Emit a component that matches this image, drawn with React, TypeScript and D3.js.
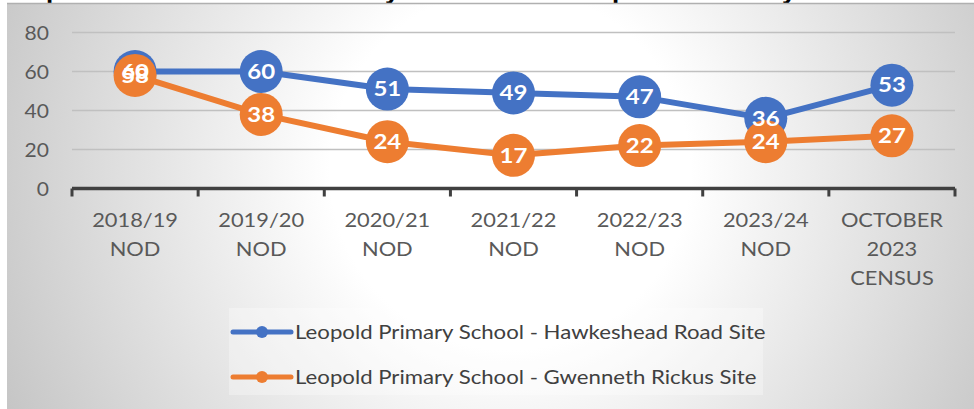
import React from "react";
import * as d3 from "d3";

const categories = [
  "2018/19 NOD",
  "2019/20 NOD",
  "2020/21 NOD",
  "2021/22 NOD",
  "2022/23 NOD",
  "2023/24 NOD",
  "OCTOBER 2023 CENSUS",
];
const hawkesheadValues = [60, 60, 51, 49, 47, 36, 53];
const gwennethValues = [58, 38, 24, 17, 22, 24, 27];
const seriesNames = [
  "Leopold Primary School - Hawkeshead Road Site",
  "Leopold Primary School - Gwenneth Rickus Site",
];
const yTicks = [0, 20, 40, 60, 80];

const W = 974;
const H = 409;
const FONT = "Lato, 'Open Sans', sans-serif";
const BLUE = "#4472C4";
const ORANGE = "#ED7D31";

type STProps = {
  x: number;
  y: number;
  sx: number;
  anchor?: "start" | "middle" | "end";
  size: number;
  fill: string;
  weight?: string | number;
  dy?: string;
  children: React.ReactNode;
};

function SText({ x, y, sx, anchor = "start", size, fill, weight = "normal", dy, children }: STProps) {
  return (
    <text
      transform={`translate(${x},${y}) scale(${sx},1)`}
      x={0}
      y={0}
      dy={dy}
      textAnchor={anchor}
      fontSize={size}
      fill={fill}
      fontWeight={weight}
    >
      {children}
    </text>
  );
}

export default function App() {
  const x = d3.scaleBand<string>().domain(categories).range([72, 955]).padding(0);
  const y = d3.scaleLinear().domain([0, 80]).range([188.5, 32.5]);
  const cx = (c: string) => (x(c) as number) + x.bandwidth() / 2;

  const series = [
    { name: seriesNames[0], values: hawkesheadValues, color: BLUE },
    { name: seriesNames[1], values: gwennethValues, color: ORANGE },
  ];

  const line = d3
    .line<number>()
    .x((_, i) => cx(categories[i]))
    .y((d) => y(d));

  const boundaries = [...categories.map((c) => x(c) as number), 955];

  return (
    <svg
      width={W}
      height={H}
      style={{ position: "fixed", left: 0, top: 0, display: "block" }}
      fontFamily={FONT}
    >
      <defs>
        <radialGradient id="bg" gradientUnits="userSpaceOnUse" cx={510} cy={170} r={600}>
          <stop offset="0" stopColor="#ffffff" />
          <stop offset="0.3" stopColor="#ffffff" />
          <stop offset="1" stopColor="#bfbfbf" />
        </radialGradient>
      </defs>
      <rect x={0} y={0} width={W} height={H} fill="#ffffff" />
      {/* cut-off title fragments */}
      <g fontFamily="'Liberation Sans', Arial, sans-serif" fontWeight="bold" fontSize={26} fill="#000">
        <text x={46} y={-1}>p</text>
        <text x={385} y={-1}>y</text>
        <text x={612} y={-1}>p</text>
        <text x={782} y={-1}>y</text>
      </g>
      <rect x={7} y={3.5} width={W - 7} height={H - 3.5} fill="url(#bg)" />
      <line x1={7} x2={W} y1={3.5} y2={3.5} stroke="#b0b0b0" strokeWidth={1.5} />

      {/* gridlines */}
      {yTicks
        .filter((t) => t > 0)
        .map((t) => (
          <line key={t} x1={72} x2={955} y1={y(t)} y2={y(t)} stroke="#c0c0c0" strokeWidth={1.5} />
        ))}

      {/* y tick labels */}
      {yTicks.map((t) => (
        <SText key={t} x={49} y={y(t)} sx={1.08} dy="0.36em" anchor="end" size={19.5} fill="#595959">
          {t}
        </SText>
      ))}

      {/* x axis */}
      <line x1={72} x2={955} y1={y(0)} y2={y(0)} stroke="#404040" strokeWidth={3.5} />
      {boundaries.map((b, i) => (
        <line key={i} x1={b} x2={b} y1={y(0)} y2={y(0) + 8} stroke="#404040" strokeWidth={3} />
      ))}
      {categories.map((c) =>
        c.split(" ").map((part, j) => (
          <SText key={c + j} x={cx(c)} y={227 + j * 29} sx={1.12} anchor="middle" size={19.5} fill="#595959">
            {part}
          </SText>
        ))
      )}

      {/* lines and markers */}
      {series.map((s) => (
        <g key={s.name}>
          <path d={line(s.values) || ""} fill="none" stroke={s.color} strokeWidth={6} strokeLinejoin="round" />
          {s.values.map((v, i) => (
            <circle key={i} cx={cx(categories[i])} cy={y(v)} r={21.5} fill={s.color} />
          ))}
        </g>
      ))}
      {/* data labels */}
      {series.map((s) => (
        <g key={s.name + "-labels"}>
          {s.values.map((v, i) => (
            <SText
              key={i}
              x={cx(categories[i])}
              y={y(v)}
              sx={1.2}
              dy="0.36em"
              anchor="middle"
              size={20}
              weight="bold"
              fill="#ffffff"
            >
              {v}
            </SText>
          ))}
        </g>
      ))}

      {/* legend */}
      <rect x={229} y={308} width={534} height={87} fill="#ffffff" opacity={0.3} />
      {series.map((s, i) => {
        const ly = 332 + i * 45;
        return (
          <g key={s.name + "-legend"}>
            <line x1={233} x2={291} y1={ly} y2={ly} stroke={s.color} strokeWidth={5} strokeLinecap="round" />
            <circle cx={262} cy={ly} r={6} fill={s.color} />
            <SText x={295} y={ly} sx={1.2} dy="0.36em" size={18.5} fill="#404040">
              {s.name}
            </SText>
          </g>
        );
      })}
    </svg>
  );
}
